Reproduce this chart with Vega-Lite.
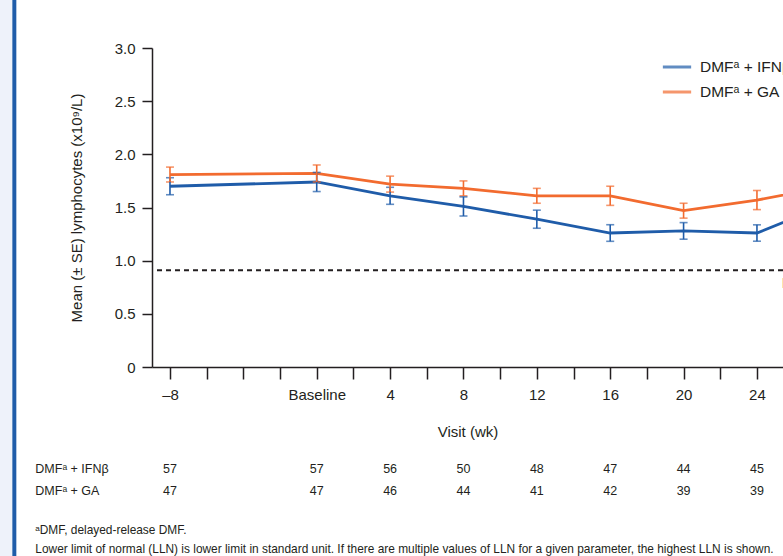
{
  "$schema": "https://vega.github.io/schema/vega-lite/v6.json",
  "width": 631,
  "height": 319,
  "autosize": {"type": "none"},
  "padding": {"left": 152, "top": 48, "right": 0, "bottom": 189},
  "background": "white",
  "config": {"font": "Liberation Sans", "view": {"stroke": null}},
  "title": {"text": "B. Lymphocyte counts", "anchor": "start", "frame": "group", "dx": -119, "fontSize": 16, "fontWeight": "bold", "color": "#231f20", "offset": 34, "baseline": "alphabetic"},
  "datasets": {
    "lymph": [
      {"week": -8, "group": "DMFᵃ + IFNβ", "mean": 1.70, "se": 0.08},
      {"week": 0, "group": "DMFᵃ + IFNβ", "mean": 1.74, "se": 0.09},
      {"week": 4, "group": "DMFᵃ + IFNβ", "mean": 1.61, "se": 0.08},
      {"week": 8, "group": "DMFᵃ + IFNβ", "mean": 1.51, "se": 0.09},
      {"week": 12, "group": "DMFᵃ + IFNβ", "mean": 1.39, "se": 0.085},
      {"week": 16, "group": "DMFᵃ + IFNβ", "mean": 1.26, "se": 0.078},
      {"week": 20, "group": "DMFᵃ + IFNβ", "mean": 1.28, "se": 0.078},
      {"week": 24, "group": "DMFᵃ + IFNβ", "mean": 1.26, "se": 0.077},
      {"week": 28, "group": "DMFᵃ + IFNβ", "mean": 1.54, "se": 0.08},
      {"week": -8, "group": "DMFᵃ + GA", "mean": 1.81, "se": 0.07},
      {"week": 0, "group": "DMFᵃ + GA", "mean": 1.82, "se": 0.08},
      {"week": 4, "group": "DMFᵃ + GA", "mean": 1.72, "se": 0.075},
      {"week": 8, "group": "DMFᵃ + GA", "mean": 1.68, "se": 0.07},
      {"week": 12, "group": "DMFᵃ + GA", "mean": 1.61, "se": 0.07},
      {"week": 16, "group": "DMFᵃ + GA", "mean": 1.61, "se": 0.09},
      {"week": 20, "group": "DMFᵃ + GA", "mean": 1.47, "se": 0.07},
      {"week": 24, "group": "DMFᵃ + GA", "mean": 1.57, "se": 0.09},
      {"week": 28, "group": "DMFᵃ + GA", "mean": 1.70, "se": 0.08}
    ],
    "counts": [
      {"week": -8, "group": "DMFᵃ + IFNβ", "n": 57},
      {"week": 0, "group": "DMFᵃ + IFNβ", "n": 57},
      {"week": 4, "group": "DMFᵃ + IFNβ", "n": 56},
      {"week": 8, "group": "DMFᵃ + IFNβ", "n": 50},
      {"week": 12, "group": "DMFᵃ + IFNβ", "n": 48},
      {"week": 16, "group": "DMFᵃ + IFNβ", "n": 47},
      {"week": 20, "group": "DMFᵃ + IFNβ", "n": 44},
      {"week": 24, "group": "DMFᵃ + IFNβ", "n": 45},
      {"week": -8, "group": "DMFᵃ + GA", "n": 47},
      {"week": 0, "group": "DMFᵃ + GA", "n": 47},
      {"week": 4, "group": "DMFᵃ + GA", "n": 46},
      {"week": 8, "group": "DMFᵃ + GA", "n": 44},
      {"week": 12, "group": "DMFᵃ + GA", "n": 41},
      {"week": 16, "group": "DMFᵃ + GA", "n": 42},
      {"week": 20, "group": "DMFᵃ + GA", "n": 39},
      {"week": 24, "group": "DMFᵃ + GA", "n": 39}
    ]
  },
  "resolve": {"scale": {"y": "independent"}},
  "layer": [
    {
      "layer": [
        {
          "data": {"values": [{}]},
          "mark": {"type": "rect", "color": "#eef2fa"},
          "encoding": {
            "x": {"datum": -17.3, "type": "quantitative"},
            "x2": {"datum": -16.594},
            "y": {"datum": 3.5, "type": "quantitative"},
            "y2": {"datum": -1.8}
          }
        },
        {
          "data": {"values": [{}]},
          "mark": {"type": "rect", "color": "#1f5ca9"},
          "encoding": {
            "x": {"datum": -16.594, "type": "quantitative"},
            "x2": {"datum": -16.376},
            "y": {"datum": 3.5, "type": "quantitative"},
            "y2": {"datum": -1.8}
          }
        },
        {
          "data": {"values": [{"lln": 0.91, "label": "LLN"}]},
          "mark": {"type": "rule", "strokeDash": [5, 4], "strokeWidth": 2, "color": "#231f20"},
          "encoding": {"y": {"field": "lln", "type": "quantitative", "title": "Mean (± SE) lymphocytes (x10⁹/L)"}}
        },
        {
          "data": {"values": [{"lln": 0.91, "label": "LLN"}]},
          "mark": {"type": "text", "align": "left", "baseline": "top", "dy": 6, "fontSize": 15, "fill": "#231f20", "color": "#231f20"},
          "encoding": {
            "x": {"datum": 25.35, "type": "quantitative"},
            "y": {"field": "lln", "type": "quantitative", "title": "Mean (± SE) lymphocytes (x10⁹/L)"},
            "text": {"field": "label"}
          }
        },
        {
          "data": {"name": "lymph"},
          "mark": {"type": "line", "strokeWidth": 2.8, "clip": true},
          "encoding": {
            "x": {
              "field": "week", "type": "quantitative", "title": "Visit (wk)",
              "scale": {"domain": [-8.98, 25.42], "nice": false, "zero": false},
              "axis": {
                "values": [-8, -6, -4, -2, 0, 2, 4, 6, 8, 10, 12, 14, 16, 18, 20, 22, 24],
                "tickCount": 40,
                "labelExpr": "datum.value == 0 ? 'Baseline' : datum.value == -8 ? '–8' : (datum.value > 0 && datum.value % 4 == 0 ? datum.label : '')",
                "title": "Visit (wk)", "grid": false,
                "tickSize": 12, "tickWidth": 1.5, "domainWidth": 1.5,
                "domainColor": "#231f20", "tickColor": "#231f20", "labelColor": "#231f20", "titleColor": "#231f20",
                "labelFontSize": 15, "labelPadding": 8, "labelOverlap": false, "labelFlush": false,
                "titleFontSize": 15, "titleFontWeight": "normal", "titlePadding": 22
              }
            },
            "y": {
              "field": "mean", "type": "quantitative", "title": "Mean (± SE) lymphocytes (x10⁹/L)",
              "scale": {"domain": [0, 3], "nice": false},
              "axis": {
                "values": [0, 0.5, 1, 1.5, 2, 2.5, 3],
                "labelExpr": "datum.value == 0 ? '0' : format(datum.value, '.1f')",
                "title": "Mean (± SE) lymphocytes (x10⁹/L)", "grid": false,
                "tickSize": 10, "tickWidth": 1.5, "domainWidth": 1.5,
                "domainColor": "#231f20", "tickColor": "#231f20", "labelColor": "#231f20", "titleColor": "#231f20",
                "labelFontSize": 15, "labelPadding": 7,
                "titleFontSize": 15, "titleFontWeight": "normal", "titlePadding": 30
              }
            },
            "color": {
              "field": "group", "type": "nominal",
              "scale": {"domain": ["DMFᵃ + IFNβ", "DMFᵃ + GA"], "range": ["#1f5ca9", "#f26b2f"]},
              "legend": {
                "orient": "none", "legendX": 509, "legendY": 3, "title": null,
                "symbolType": "stroke", "symbolSize": 800, "symbolStrokeWidth": 3,
                "labelFontSize": 15.5, "labelOffset": 7, "labelLimit": 500, "labelColor": "#231f20",
                "rowPadding": 0, "padding": 0
              }
            }
          }
        },
        {
          "data": {"name": "lymph"},
          "mark": {"type": "errorbar", "ticks": {"size": 8, "thickness": 1.6}, "thickness": 1.6, "clip": true},
          "encoding": {
            "x": {"field": "week", "type": "quantitative", "title": "Visit (wk)"},
            "y": {"field": "mean", "type": "quantitative", "title": "Mean (± SE) lymphocytes (x10⁹/L)"},
            "yError": {"field": "se"},
            "color": {"field": "group", "type": "nominal"}
          }
        }
      ]
    },
    {
      "layer": [
        {
          "data": {"name": "counts"},
          "mark": {"type": "text", "fontSize": 12.5, "color": "#231f20"},
          "encoding": {
            "x": {"field": "week", "type": "quantitative", "title": "Visit (wk)"},
            "y": {"field": "group", "type": "nominal", "scale": {"domain": ["DMFᵃ + IFNβ", "DMFᵃ + GA"], "range": [421, 443], "padding": 0}, "axis": null},
            "text": {"field": "n"}
          }
        },
        {
          "data": {"values": [{"group": "DMFᵃ + IFNβ"}, {"group": "DMFᵃ + GA"}]},
          "mark": {"type": "text", "align": "left", "fontSize": 12.5, "color": "#231f20"},
          "encoding": {
            "x": {"datum": -15.34, "type": "quantitative"},
            "y": {"field": "group", "type": "nominal"},
            "text": {"field": "group"}
          }
        }
      ]
    },
    {
      "data": {"values": [
        {"line": 1, "note": "ᵃDMF, delayed-release DMF."},
        {"line": 2, "note": "Lower limit of normal (LLN) is lower limit in standard unit. If there are multiple values of LLN for a given parameter, the highest LLN is shown."}
      ]},
      "mark": {"type": "text", "align": "left", "fontSize": 11.9, "color": "#231f20"},
      "encoding": {
        "x": {"datum": -15.34, "type": "quantitative"},
        "y": {"field": "line", "type": "ordinal", "scale": {"range": [482, 501], "padding": 0}, "axis": null},
        "text": {"field": "note"}
      }
    }
  ]
}
